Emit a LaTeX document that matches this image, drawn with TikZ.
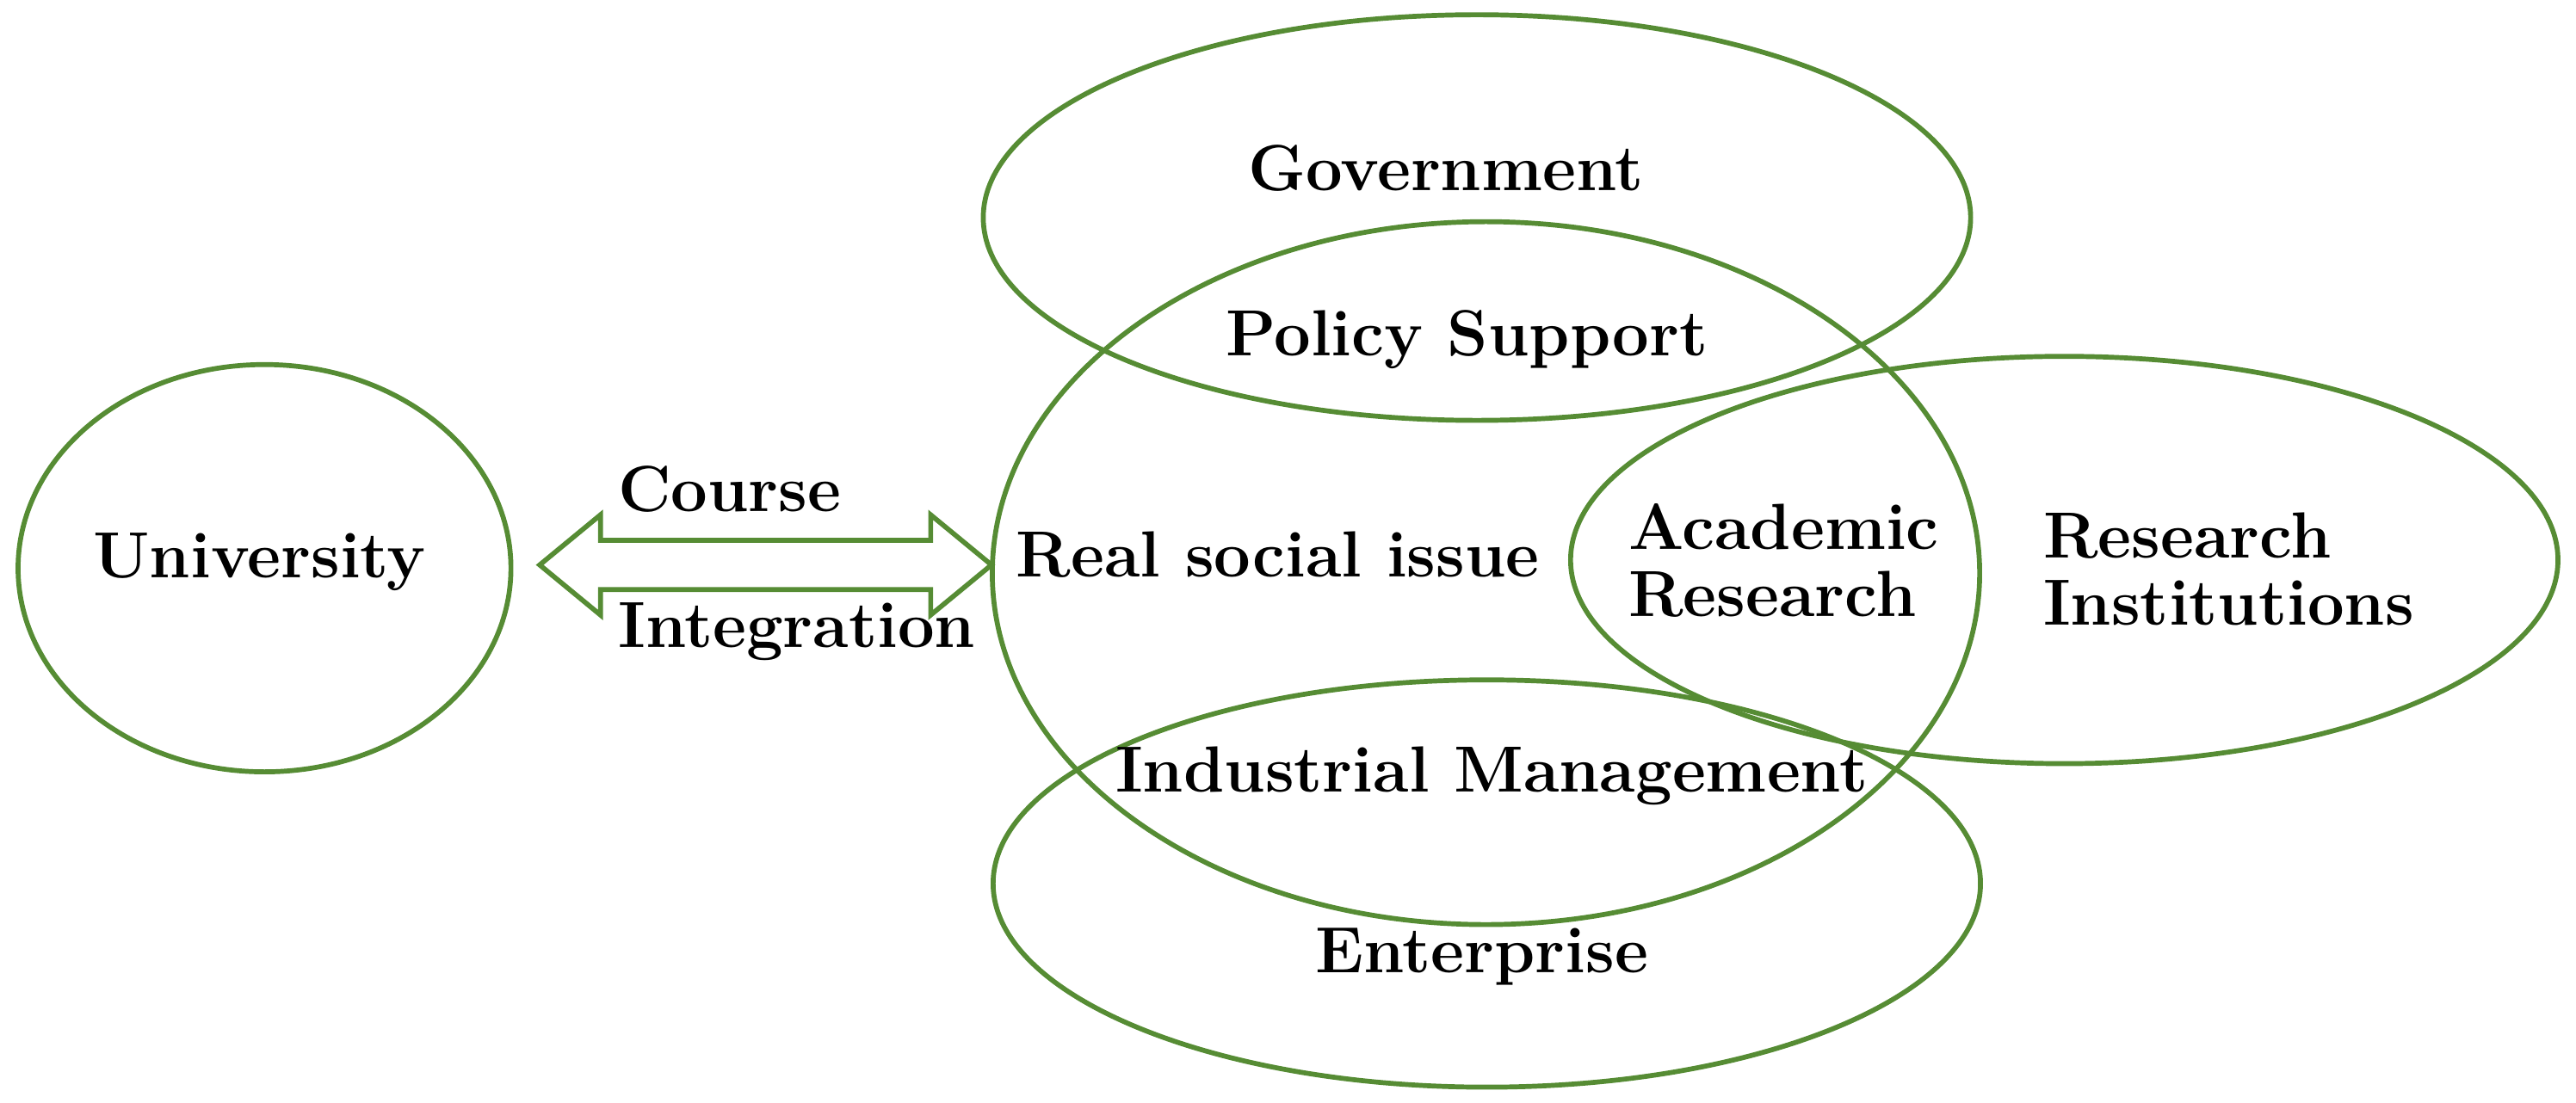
\documentclass[tikz,border=0pt]{standalone}
\usetikzlibrary{shapes.geometric,shapes.arrows}
\definecolor{leaf}{RGB}{86,140,52}
\tikzset{
  zone/.style={shape=ellipse,draw=leaf,line width=0.85pt,inner sep=0pt},
  tag/.style={font=\fontsize{11.3}{11.7}\selectfont\bfseries,inner sep=0pt},
}
\begin{document}
\begin{tikzpicture}
        \useasboundingbox (0,0) rectangle (15.68,6.716);
        \node[zone,minimum width=3.00cm,minimum height=2.48cm] (univ) at (1.61,3.256) {};
        \node[zone,minimum width=6.01cm,minimum height=2.47cm] (gov) at (8.99,5.391) {};
        \node[zone,minimum width=6.01cm,minimum height=4.28cm] (social) at (9.045,3.226) {};
        \node[zone,minimum width=6.01cm,minimum height=2.48cm] (inst) at (12.565,3.306) {};
        \node[zone,minimum width=6.01cm,minimum height=2.48cm] (ent) at (9.05,1.336) {};
        \node[double arrow,draw=leaf,line width=0.85pt,minimum height=2.75cm,inner xsep=0pt,inner ysep=0.135cm,double arrow head extend=0.155cm,double arrow tip angle=79] (link) at (4.66,3.276) {};
        \node[tag,anchor=base] (univT) at (1.58,3.196) {University};
        \node[tag,anchor=base west] (course) at (3.756,3.599) {Course};
        \node[tag,anchor=base west] (integ) at (3.756,2.776) {Integration};
        \node[tag,anchor=base] (govT) at (8.80,5.556) {Government};
        \node[tag,anchor=base] (policy) at (8.93,4.551) {Policy Support};
        \node[tag,anchor=base west] (socialT) at (6.18,3.201) {Real social issue};
        \node[tag,anchor=base west,align=left] (acad) at (9.906,2.961) {Academic\\Research};
        \node[tag,anchor=base west,align=left] (instT) at (12.43,2.909) {Research\\Institutions};
        \node[tag,anchor=base] (indus) at (9.08,1.896) {Industrial Management};
        \node[tag,anchor=base] (entT) at (9.02,0.791) {Enterprise};
\end{tikzpicture}
\end{document}
